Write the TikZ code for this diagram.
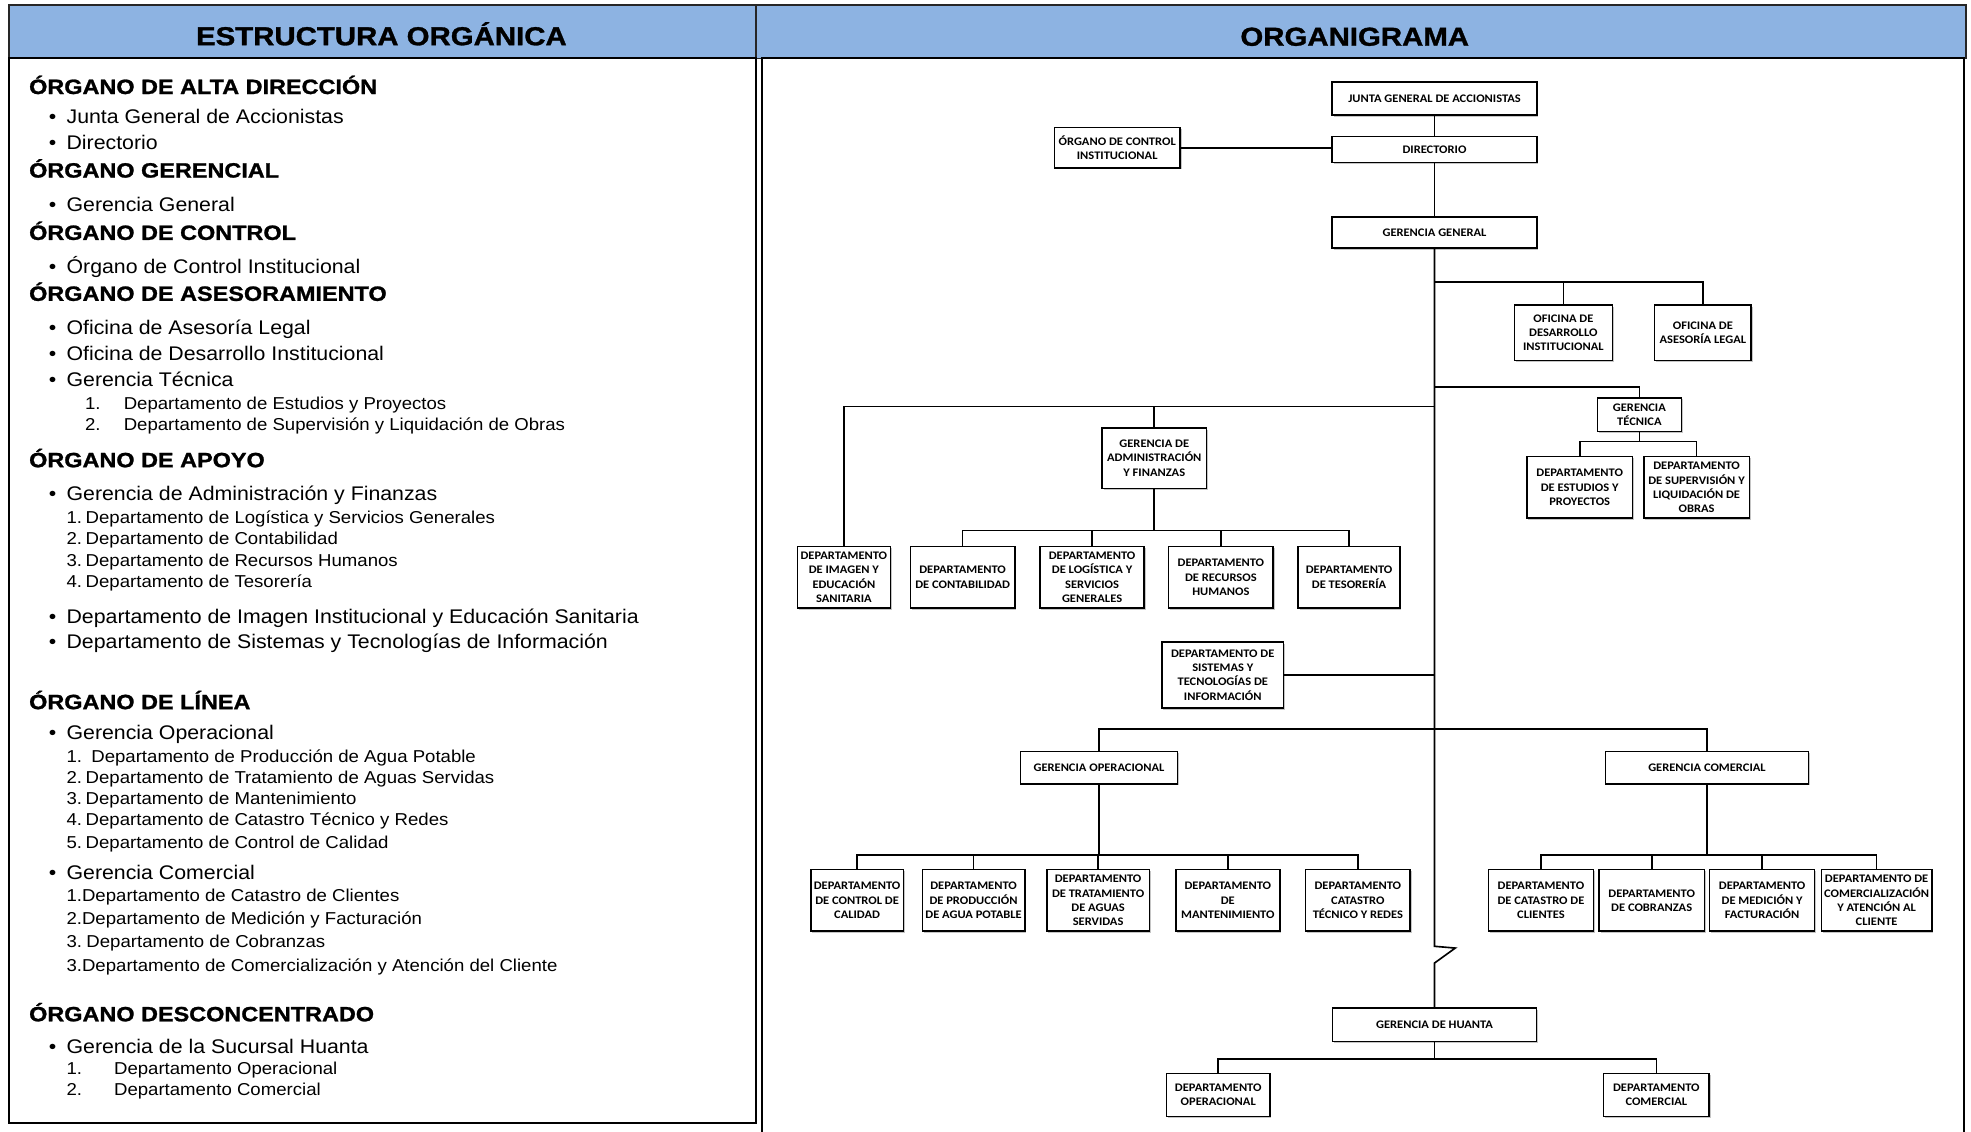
\documentclass[tikz,border=0pt]{standalone}
\usepackage{fontspec}
\setmainfont{Liberation Sans}
\newfontfamily\cuerpofont[FakeStretch=1.08]{Liberation Sans}
\newfontfamily\titularfont[FakeStretch=1.13,FakeBold=1.2]{Liberation Sans}
\newfontfamily\cajafont[FakeStretch=1.08]{Carlito}
\usetikzlibrary{shadows}
\definecolor{azulcab}{RGB}{141,179,226}

\begin{document}
\begin{tikzpicture}[x=1pt, y=-1pt,
    orgbox/.style={draw, line width=1.2pt, fill=white, align=center, inner sep=0pt,
        font=\cajafont\bfseries\fontsize{9.2}{11.3}\selectfont,
        drop shadow={shadow xshift=1.2pt, shadow yshift=-1.2pt, fill=black!45}},
    conector/.style={line width=1.3pt},
    cabecera/.style={draw=black!85, line width=1.2pt, fill=azulcab},
    titulo/.style={anchor=base, inner sep=0pt, font=\titularfont\bfseries\fontsize{20.7}{24}\selectfont},
    encabezado/.style={anchor=base west, inner sep=0pt, font=\titularfont\bfseries\fontsize{16.5}{19}\selectfont},
    item/.style={anchor=base west, inner sep=0pt, font=\cuerpofont\fontsize{15.7}{18}\selectfont},
    subitem/.style={anchor=base west, inner sep=0pt, font=\cuerpofont\fontsize{13.7}{16}\selectfont}
]
    \useasboundingbox (0,0) rectangle (1568.4,900);
    % Panels
    \draw[cabecera] (7,4) rectangle (601.5,46.4);
    \draw[cabecera] (601.5,4) rectangle (1564.5,46.4);
    \draw[line width=1.6pt] (7,46.4) rectangle (601.5,893.5);
    \draw[line width=1.5pt] (606,910) -- (606,46.4) -- (1562.5,46.4) -- (1562.5,910);
    \node[titulo] (tizq) at (303.5,36)   {ESTRUCTURA ORGÁNICA};
    \node[titulo] (tder) at (1078,36.4)  {ORGANIGRAMA};
    % Left panel: headings
    \foreach \y/\texto [count=\i] in {74.8/ÓRGANO DE ALTA DIRECCIÓN, 141.3/ÓRGANO GERENCIAL,
        190.9/ÓRGANO DE CONTROL, 239.4/ÓRGANO DE ASESORAMIENTO, 371.8/ÓRGANO DE APOYO,
        564.3/ÓRGANO DE LÍNEA, 812.7/ÓRGANO DESCONCENTRADO}
        \node[encabezado] (enc\i) at (23,\y) {\texto};
    % Left panel: bullet items
    \foreach \y/\texto [count=\i] in {98.6/Junta General de Accionistas, 119.3/Directorio,
        168.4/Gerencia General, 218/Órgano de Control Institucional,
        266.5/Oficina de Asesoría Legal, 286.9/Oficina de Desarrollo Institucional,
        307.6/Gerencia Técnica, 398.5/Gerencia de Administración y Finanzas,
        495.8/Departamento de Imagen Institucional y Educación Sanitaria,
        516.3/Departamento de Sistemas y Tecnologías de Información,
        588.7/Gerencia Operacional, 700/Gerencia Comercial, 837.9/Gerencia de la Sucursal Huanta}
        {\node[item] (vin\i) at (38.6,\y) {\textbullet};
         \node[item] (it\i)  at (52.8,\y) {\texto};}
    % Left panel: numbered items
    \foreach \y/\xn/\nro/\xt/\texto [count=\i] in {
        326.2/67.5/1./98.3/Departamento de Estudios y Proyectos,
        342.9/67.5/2./98.3/Departamento de Supervisión y Liquidación de Obras,
        416.3/52.8/1./68/Departamento de Logística y Servicios Generales,
        433.5/52.8/2./68/Departamento de Contabilidad,
        450.8/52.8/3./68/Departamento de Recursos Humanos,
        467.2/52.8/4./68/Departamento de Tesorería,
        606.4/52.8/1./72.5/Departamento de Producción de Agua Potable,
        623.7/52.8/2./68/Departamento de Tratamiento de Aguas Servidas,
        640.4/52.8/3./68/Departamento de Mantenimiento,
        657.1/52.8/4./68/Departamento de Catastro Técnico y Redes,
        674.8/52.8/5./68/Departamento de Control de Calidad,
        717.3/52.8/1./65.1/Departamento de Catastro de Clientes,
        735.3/52.8/2./65.1/Departamento de Medición y Facturación,
        753.6/52.8/3./68.6/Departamento de Cobranzas,
        772.9/52.8/3./65.1/Departamento de Comercialización y Atención del Cliente,
        855.2/52.8/1./90.6/Departamento Operacional,
        871.6/52.8/2./90.6/Departamento Comercial}
        {\node[subitem] (nro\i) at (\xn,\y) {\nro};
         \node[subitem] (sub\i) at (\xt,\y) {\texto};}
    % Organigrama: boxes
    \node[orgbox, minimum width=163pt, minimum height=26.5pt] (junta) at (1141.5,78.3) {JUNTA GENERAL DE ACCIONISTAS};
    \node[orgbox, minimum width=163pt, minimum height=20.7pt] (dir)   at (1141.5,119)  {DIRECTORIO};
    \node[orgbox, minimum width=100pt, minimum height=32pt]   (oci)   at (889,117.6)   {ÓRGANO DE CONTROL\\INSTITUCIONAL};
    \node[orgbox, minimum width=163pt, minimum height=25pt]   (gg)    at (1141.5,185)  {GERENCIA GENERAL};
    \node[orgbox, minimum width=78pt, minimum height=44pt]    (odi)   at (1244,264.7)  {OFICINA DE\\DESARROLLO\\INSTITUCIONAL};
    \node[orgbox, minimum width=77pt, minimum height=44pt]    (oal)   at (1355,264.7)  {OFICINA DE\\ASESORÍA LEGAL};
    \node[orgbox, minimum width=67pt, minimum height=27pt]    (gt)    at (1304.5,330)  {GERENCIA\\TÉCNICA};
    \node[orgbox, minimum width=84pt, minimum height=49pt]    (dep)   at (1257,387.8)  {DEPARTAMENTO\\DE ESTUDIOS Y\\PROYECTOS};
    \node[orgbox, minimum width=84pt, minimum height=49pt]    (dslo)  at (1350,387.8)  {DEPARTAMENTO\\DE SUPERVISIÓN Y\\LIQUIDACIÓN DE\\OBRAS};
    \node[orgbox, minimum width=83pt, minimum height=48pt]    (gaf)   at (918.5,364.6) {GERENCIA DE\\ADMINISTRACIÓN\\Y FINANZAS};
    \node[orgbox, minimum width=74pt, minimum height=49pt]    (img)   at (671.5,459.4) {DEPARTAMENTO\\DE IMAGEN Y\\EDUCACIÓN\\SANITARIA};
    \node[orgbox, minimum width=83pt, minimum height=49pt]    (cont)  at (766,459.4)   {DEPARTAMENTO\\DE CONTABILIDAD};
    \node[orgbox, minimum width=83pt, minimum height=49pt]    (log)   at (869,459.4)   {DEPARTAMENTO\\DE LOGÍSTICA Y\\SERVICIOS\\GENERALES};
    \node[orgbox, minimum width=83pt, minimum height=49pt]    (rrhh)  at (971.5,459.4) {DEPARTAMENTO\\DE RECURSOS\\HUMANOS};
    \node[orgbox, minimum width=81pt, minimum height=49pt]    (tes)   at (1073.5,459.4){DEPARTAMENTO\\DE TESORERÍA};
    \node[orgbox, minimum width=97pt, minimum height=52.5pt]  (sis)   at (973,537.2)   {DEPARTAMENTO DE\\SISTEMAS Y\\TECNOLOGÍAS DE\\INFORMACIÓN};
    \node[orgbox, minimum width=125pt, minimum height=25.7pt] (go)    at (874.5,610.8) {GERENCIA OPERACIONAL};
    \node[orgbox, minimum width=73.5pt, minimum height=49pt]  (cal)   at (682,716.5)   {DEPARTAMENTO\\DE CONTROL DE\\CALIDAD};
    \node[orgbox, minimum width=81.5pt, minimum height=49pt]  (prod)  at (774.7,716.5) {DEPARTAMENTO\\DE PRODUCCIÓN\\DE AGUA POTABLE};
    \node[orgbox, minimum width=81.7pt, minimum height=49pt]  (trat)  at (873.8,716.5) {DEPARTAMENTO\\DE TRATAMIENTO\\DE AGUAS\\SERVIDAS};
    \node[orgbox, minimum width=82.8pt, minimum height=49pt]  (mant)  at (977,716.5)   {DEPARTAMENTO\\DE\\MANTENIMIENTO};
    \node[orgbox, minimum width=83.2pt, minimum height=49pt]  (catt)  at (1080.5,716.5){DEPARTAMENTO\\CATASTRO\\TÉCNICO Y REDES};
    \node[orgbox, minimum width=161.6pt, minimum height=25.7pt] (gc)  at (1358.3,610.8){GERENCIA COMERCIAL};
    \node[orgbox, minimum width=83.3pt, minimum height=49pt]  (catc)  at (1226.2,716.5){DEPARTAMENTO\\DE CATASTRO DE\\CLIENTES};
    \node[orgbox, minimum width=83.8pt, minimum height=49pt]  (cobr)  at (1314.3,716.5){DEPARTAMENTO\\DE COBRANZAS};
    \node[orgbox, minimum width=83.5pt, minimum height=49pt]  (med)   at (1402.2,716.5){DEPARTAMENTO\\DE MEDICIÓN Y\\FACTURACIÓN};
    \node[orgbox, minimum width=88pt, minimum height=49pt]    (com)   at (1493.3,716.5){DEPARTAMENTO DE\\COMERCIALIZACIÓN\\Y ATENCIÓN AL\\CLIENTE};
    \node[orgbox, minimum width=162pt, minimum height=26.5pt] (huanta) at (1141.5,815.4){GERENCIA DE HUANTA};
    \node[orgbox, minimum width=82.2pt, minimum height=34pt]  (dop)   at (969.4,871.4) {DEPARTAMENTO\\OPERACIONAL};
    \node[orgbox, minimum width=84pt, minimum height=34pt]    (dcom)  at (1318,871.4)  {DEPARTAMENTO\\COMERCIAL};
    % Organigrama: bus points
    \coordinate (ofibus)   at (1141.5,224.5);
    \coordinate (gtbus)    at (1141.5,308);
    \coordinate (izqbus)   at (1141.5,323.5);
    \coordinate (gtsub)    at (1304.5,351.3);
    \coordinate (gafbus)   at (918.5,422.1);
    \coordinate (sisbus)   at (1141.5,537.2);
    \coordinate (lineabus) at (1141.5,580.2);
    \coordinate (gosub)    at (874.5,680.1);
    \coordinate (gcsub)    at (1358.3,680.5);
    \coordinate (quiebre1) at (1141.5,753);
    \coordinate (quiebre2) at (1158,754.4);
    \coordinate (quiebre3) at (1141.5,766.3);
    \coordinate (hsub)     at (1141.5,842.7);
    % Organigrama: trunk
    \draw[conector] (junta) -- (dir);
    \draw[conector] (dir) -- (gg);
    \draw[conector] (oci.east) -- (oci.east -| dir.west);
    \draw[conector] (gg) -- (quiebre1) -- (quiebre2) -- (quiebre3) -- (huanta);
    % Organigrama: branches
    \draw[conector] (ofibus) -| (oal);
    \draw[conector] (ofibus -| odi) -- (odi);
    \draw[conector] (gtbus) -| (gt);
    \draw[conector] (gt) -- (gtsub);
    \draw[conector] (dep) |- (gtsub) -| (dslo);
    \draw[conector] (izqbus) -| (img);
    \draw[conector] (izqbus -| gaf) -- (gaf);
    \draw[conector] (gaf) -- (gafbus);
    \draw[conector] (cont) |- (gafbus) -| (tes);
    \draw[conector] (gafbus -| log) -- (log);
    \draw[conector] (gafbus -| rrhh) -- (rrhh);
    \draw[conector] (sis) -- (sisbus);
    \draw[conector] (go) |- (lineabus) -| (gc);
    \draw[conector] (go) -- (gosub);
    \draw[conector] (cal) |- (gosub) -| (catt);
    \foreach \n in {prod,trat,mant}
        \draw[conector] (gosub -| \n) -- (\n);
    \draw[conector] (gc) -- (gcsub);
    \draw[conector] (catc) |- (gcsub) -| (com);
    \foreach \n in {cobr,med}
        \draw[conector] (gcsub -| \n) -- (\n);
    \draw[conector] (huanta) -- (hsub);
    \draw[conector] (dop) |- (hsub) -| (dcom);
\end{tikzpicture}
\end{document}
